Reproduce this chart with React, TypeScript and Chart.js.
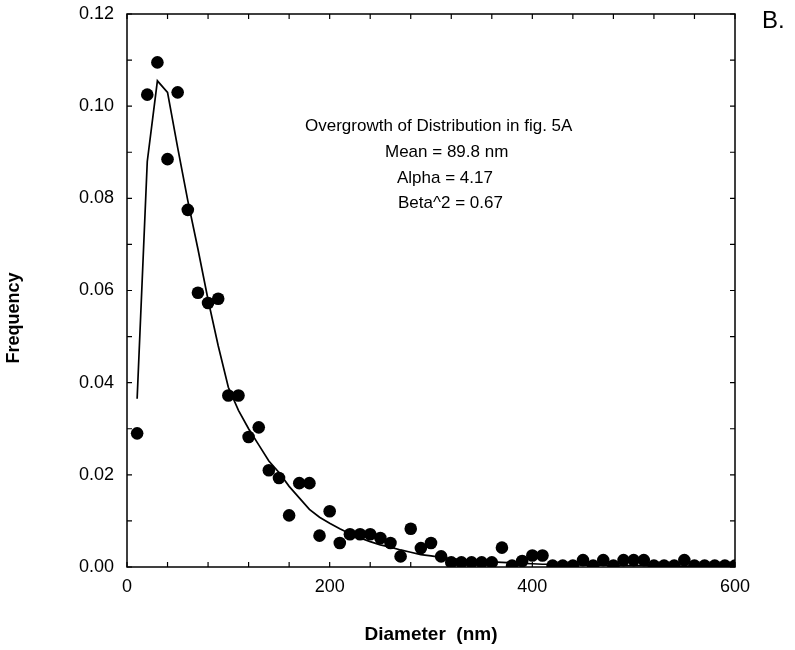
import React, { useEffect, useRef } from "react";
import { Chart, registerables } from "chart.js";

Chart.register(...registerables);

const diameters = [
  10, 20, 30, 40, 50, 60, 70, 80, 90, 100,
  110, 120, 130, 140, 150, 160, 170, 180, 190, 200,
  210, 220, 230, 240, 250, 260, 270, 280, 290, 300,
  310, 320, 330, 340, 350, 360, 370, 380, 390, 400,
  410, 420, 430, 440, 450, 460, 470, 480, 490, 500,
  510, 520, 530, 540, 550, 560, 570, 580, 590, 600,
];

const observedFreq = [
  0.029, 0.1025, 0.1095, 0.0885, 0.103, 0.0775, 0.0595, 0.0573, 0.0582, 0.0372,
  0.0372, 0.0282, 0.0303, 0.021, 0.0193, 0.0112, 0.0182, 0.0182, 0.0068, 0.0121,
  0.0052, 0.0071, 0.0071, 0.0071, 0.0063, 0.0052, 0.0023, 0.0083, 0.0041, 0.0052,
  0.0023, 0.001, 0.001, 0.001, 0.001, 0.001, 0.0042, 0.0003, 0.0013, 0.0025,
  0.0025, 0.0003, 0.0003, 0.0003, 0.0015, 0.0003, 0.0015, 0.0003, 0.0015, 0.0015,
  0.0015, 0.0003, 0.0003, 0.0003, 0.0015, 0.0003, 0.0003, 0.0003, 0.0003, 0.0003,
];

const fittedFreq = [
  0.0365, 0.088, 0.1055, 0.103, 0.091, 0.0795, 0.069, 0.058, 0.048, 0.039,
  0.034, 0.03, 0.0265, 0.023, 0.0205, 0.0175, 0.015, 0.0125, 0.0108, 0.0095,
  0.0083, 0.0072, 0.0063, 0.0055, 0.0048, 0.0043, 0.0037, 0.0032, 0.0027, 0.0024,
  0.0021, 0.0018, 0.0016, 0.0014, 0.0012, 0.0011, 0.001, 0.0009, 0.0008, 0.0007,
  0.0006, 0.0006, 0.0005, 0.0005, 0.0004, 0.0004, 0.0004, 0.0003, 0.0003, 0.0003,
  0.0003, 0.0002, 0.0002, 0.0002, 0.0002, 0.0002, 0.0002, 0.0001, 0.0001, 0.0001,
];

const xTickLabels = [0, 200, 400, 600];
const yTickLabels = [0, 0.02, 0.04, 0.06, 0.08, 0.1, 0.12];

const annotationLines = [
  "Overgrowth of Distribution in fig. 5A",
  "Mean = 89.8 nm",
  "Alpha = 4.17",
  "Beta^2 = 0.67",
];

const FONT = "'Liberation Sans', Arial, Helvetica, sans-serif";

const framePlugin = {
  id: "framePlugin",
  beforeDatasetsDraw(chart: any) {
    const { ctx, chartArea } = chart;
    const xs = chart.scales.x;
    const ys = chart.scales.y;
    ctx.save();
    ctx.strokeStyle = "#000";
    ctx.lineWidth = 1.5;
    ctx.strokeRect(chartArea.left, chartArea.top, chartArea.right - chartArea.left, chartArea.bottom - chartArea.top);
    ctx.lineWidth = 1.2;
    const tl = 5;
    for (let v = 0; v <= 600; v += 40) {
      const px = xs.getPixelForValue(v);
      ctx.beginPath();
      ctx.moveTo(px, chartArea.bottom);
      ctx.lineTo(px, chartArea.bottom - tl);
      ctx.moveTo(px, chartArea.top);
      ctx.lineTo(px, chartArea.top + tl);
      ctx.stroke();
    }
    for (let i = 0; i <= 12; i++) {
      const py = ys.getPixelForValue(i * 0.01);
      ctx.beginPath();
      ctx.moveTo(chartArea.left, py);
      ctx.lineTo(chartArea.left + tl, py);
      ctx.moveTo(chartArea.right, py);
      ctx.lineTo(chartArea.right - tl, py);
      ctx.stroke();
    }
    ctx.restore();
  },
  afterDraw(chart: any) {
    const { ctx } = chart;
    ctx.save();
    ctx.fillStyle = "#000";
    ctx.save();
    ctx.translate(14, 318);
    ctx.rotate(-Math.PI / 2);
    ctx.font = `bold 18px ${FONT}`;
    ctx.textAlign = "center";
    ctx.textBaseline = "middle";
    ctx.fillText("Frequency", 0, 0);
    ctx.restore();
    ctx.font = `24px ${FONT}`;
    ctx.textAlign = "left";
    ctx.textBaseline = "middle";
    ctx.fillText("B.", 762, 21);
    ctx.font = `17px ${FONT}`;
    const pos = [
      [305, 126],
      [385, 152],
      [397, 178],
      [398, 203],
    ];
    annotationLines.forEach((t, i) => {
      ctx.fillText(t, pos[i][0], pos[i][1]);
    });
    ctx.restore();
  },
};

export default function App() {
  const ref = useRef<HTMLCanvasElement | null>(null);

  useEffect(() => {
    document.body.style.margin = "0";
    if (!ref.current) return;
    const observed = diameters.map((d, i) => ({ x: d, y: observedFreq[i] }));
    const fitted = diameters.map((d, i) => ({ x: d, y: fittedFreq[i] }));
    const chart = new Chart(ref.current, {
      type: "scatter",
      data: {
        datasets: [
          {
            label: "Observed",
            data: observed,
            showLine: false,
            pointRadius: 6.3,
            pointBackgroundColor: "#000",
            pointBorderColor: "#000",
            pointBorderWidth: 0,
          },
          {
            label: "Fit",
            data: fitted,
            showLine: true,
            pointRadius: 0,
            borderColor: "#000",
            borderWidth: 1.7,
            tension: 0,
            fill: false,
          },
        ],
      },
      options: {
        responsive: false,
        animation: false,
        layout: { padding: { top: 14, right: 60, left: 0, bottom: 0 } },
        plugins: {
          legend: { display: false },
          tooltip: { enabled: false },
        },
        scales: {
          x: {
            type: "linear",
            min: 0,
            max: 600,
            grid: { display: false, drawTicks: false },
            border: { display: false },
            ticks: {
              stepSize: 40,
              autoSkip: false,
              maxRotation: 0,
              padding: 9,
              color: "#000",
              font: { family: FONT, size: 18 },
              callback: (v: any) => (xTickLabels.includes(Number(v)) ? String(v) : ""),
            },
            title: {
              display: true,
              text: "Diameter  (nm)",
              color: "#000",
              font: { family: FONT, size: 19, weight: "bold" },
              padding: { top: 0, bottom: 4 },
            },
            afterFit: (scale: any) => {
              scale.height = 83;
              scale.paddingLeft = 0;
              scale.paddingRight = 0;
            },
          },
          y: {
            type: "linear",
            min: 0,
            max: 0.12,
            grid: { display: false, drawTicks: false },
            border: { display: false },
            ticks: {
              stepSize: 0.01,
              autoSkip: false,
              padding: 13,
              color: "#000",
              font: { family: FONT, size: 18 },
              callback: (v: any) => {
                const n = Number(v);
                const hit = yTickLabels.some((t) => Math.abs(t - n) < 1e-6);
                return hit ? n.toFixed(2) : "";
              },
            },
            afterFit: (scale: any) => {
              scale.width = 127;
              scale.paddingTop = 0;
              scale.paddingBottom = 0;
            },
          },
        },
      },
      plugins: [framePlugin],
    });
    return () => chart.destroy();
  }, []);

  return (
    <div style={{ width: 795, height: 650 }}>
      <canvas ref={ref} width={795} height={650} style={{ width: 795, height: 650, display: "block" }} />
    </div>
  );
}
